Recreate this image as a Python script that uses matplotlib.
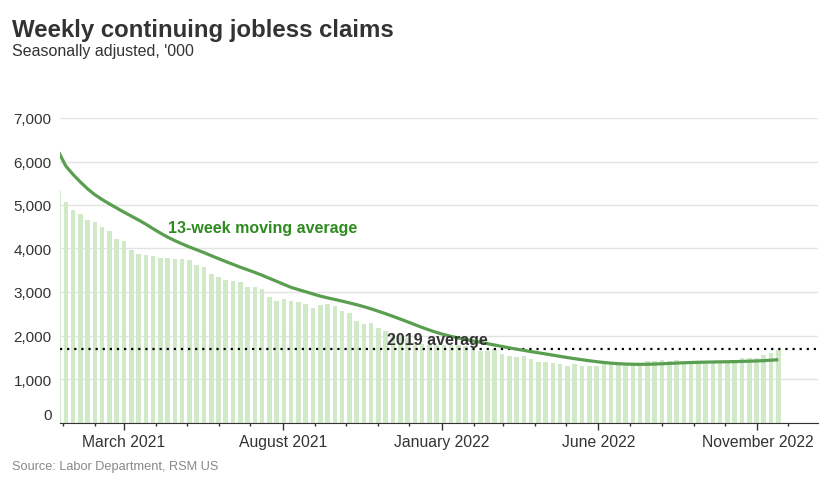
import datetime as dt
import matplotlib
matplotlib.use("Agg")
import matplotlib.pyplot as plt
import matplotlib.dates as mdates
import pandas as pd

# weekly continuing claims, '000, weeks ending Saturday (26 Dec 2020 - 19 Nov 2022)
first_week = "2020-12-26"
claims = [5322, 5076, 4885, 4793, 4662, 4616, 4494, 4409, 4226, 4180,
          3973, 3874, 3851, 3835, 3789, 3782, 3759, 3759, 3743, 3621,
          3582, 3421, 3352, 3283, 3260, 3237, 3122, 3122, 3069, 2892,
          2800, 2846, 2800, 2777, 2724, 2632, 2701, 2724, 2685, 2570,
          2517, 2333, 2264, 2287, 2179, 2104, 2058, 2018, 1943, 1850,
          1800, 1775, 1775, 1775, 1789, 1775, 1759, 1729, 1637, 1637,
          1683, 1575, 1529, 1499, 1529, 1467, 1398, 1391, 1361, 1345,
          1299, 1345, 1306, 1306, 1310, 1350, 1340, 1330, 1345, 1365,
          1368, 1410, 1410, 1437, 1410, 1437, 1384, 1384, 1384, 1384,
          1375, 1384, 1398, 1437, 1476, 1476, 1476, 1552, 1598, 1667]
# 13-week moving average, same weeks
moving_avg = [6220, 5895, 5700, 5530, 5370, 5235, 5125, 5025, 4930, 4835,
              4745, 4655, 4560, 4455, 4355, 4262, 4180, 4105, 4035, 3970,
              3905, 3835, 3767, 3700, 3635, 3570, 3510, 3450, 3385, 3315,
              3245, 3174, 3105, 3055, 3005, 2955, 2905, 2865, 2828, 2790,
              2750, 2708, 2662, 2612, 2557, 2500, 2440, 2378, 2315, 2250,
              2185, 2125, 2070, 2022, 1980, 1942, 1908, 1876, 1844, 1812,
              1780, 1748, 1716, 1686, 1658, 1630, 1603, 1576, 1548, 1520,
              1493, 1467, 1443, 1420, 1398, 1380, 1364, 1352, 1344, 1339,
              1337, 1339, 1343, 1350, 1358, 1366, 1373, 1379, 1384, 1388,
              1391, 1394, 1397, 1400, 1404, 1409, 1415, 1422, 1432, 1444]
avg_2019 = 1700
yticks = [0, 1000, 2000, 3000, 4000, 5000, 6000, 7000]
xtick_dates = ["2021-03-01", "2021-08-01", "2022-01-01", "2022-06-01", "2022-11-01"]
xtick_labels = ["March 2021", "August 2021", "January 2022", "June 2022", "November 2022"]

plt.rcParams['font.family'] = ['Liberation Sans', 'DejaVu Sans']

weeks = pd.date_range(first_week, periods=len(claims), freq="7D")

fig = plt.figure(figsize=(8.26, 4.89), dpi=100)
ax = fig.add_axes([60 / 826, 1 - 423.5 / 489, 758 / 826, 304.5 / 489])

ax.bar(weeks, claims, width=4.4, align="edge", color="#d0eac8", zorder=2)
ax.plot(weeks + pd.Timedelta(days=2.2), moving_avg, color="#5a9e50", lw=2.3,
        zorder=4, solid_capstyle="butt", solid_joinstyle="round")
ax.axhline(avg_2019, color="black", lw=1.6, ls=(0, (1, 2.2)), zorder=3)

ax.set_xlim(dt.datetime(2020, 12, 29, 14), dt.datetime(2022, 12, 29, 10))
ax.set_ylim(0, 7000)

ax.set_yticks(yticks)
ax.set_yticklabels(["{:,}".format(v) for v in yticks])
ax.get_yticklabels()[0].set_verticalalignment("bottom")
ax.tick_params(axis="y", length=0, pad=6, labelsize=11, labelcolor="#333333")
ax.grid(axis="y", color="#e3e3e3", lw=1, zorder=0)

ax.set_xticks(pd.to_datetime(xtick_dates))
ax.set_xticklabels(xtick_labels)
ax.xaxis.set_minor_locator(mdates.MonthLocator())
ax.tick_params(axis="x", which="major", length=5, width=1, pad=3,
               labelsize=11.3, labelcolor="#333333", color="#333333")
ax.tick_params(axis="x", which="minor", length=2.5, width=1, color="#333333")

for s in ["top", "right", "left"]:
    ax.spines[s].set_visible(False)
ax.spines["bottom"].set_color("#333333")
ax.spines["bottom"].set_zorder(5)

ax.text(0.1421, 0.642, "13-week moving average", transform=ax.transAxes,
        color="#2e8b1f", fontsize=11.5, fontweight="bold", va="center")
ax.text(0.4985, 0.274, "2019 average", transform=ax.transAxes,
        color="#333333", fontsize=11.5, fontweight="bold", va="center", ha="center",
        zorder=6)

fig.text(12 / 826, 1 - 36.7 / 489, "Weekly continuing jobless claims",
         fontsize=17.3, fontweight="bold", color="#333333", va="baseline")
fig.text(12 / 826, 1 - 56 / 489, "Seasonally adjusted, '000",
         fontsize=11.5, color="#333333", va="baseline")
fig.text(12 / 826, 1 - 467 / 489, "Source: Labor Department, RSM US",
         fontsize=9.2, color="#888888", va="center")

fig.savefig("out.png", dpi=100)
